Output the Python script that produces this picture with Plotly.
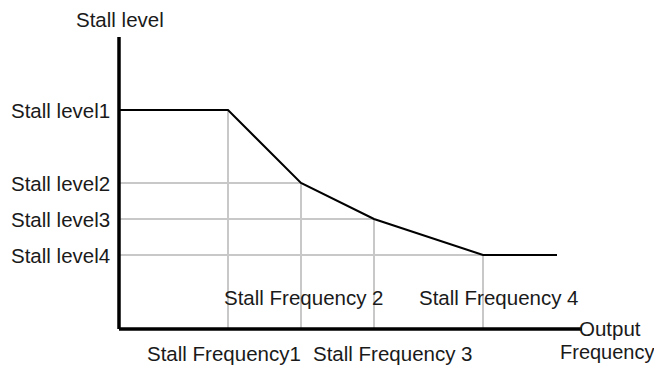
import plotly.graph_objects as go

# Data (units chosen so that the drawing matches the reference proportions)
freq_names = ["Stall Frequency1", "Stall Frequency 2", "Stall Frequency 3", "Stall Frequency 4"]
freq_values = [109, 182, 255, 364]
level_names = ["Stall level1", "Stall level2", "Stall level3", "Stall level4"]
level_values = [219, 146, 110, 74]
curve_end = 438
x_axis_end = 463
y_axis_end = 292

FONT = "Liberation Sans, Arial, sans-serif"
FS = 20.5
TXT = "#1a1a1a"
GRID = "#c8c8c8"

fig = go.Figure()

# Gray guide lines: horizontal from y-axis to each point, vertical from each point to x-axis
for i, (f, lv) in enumerate(zip(freq_values, level_values)):
    if i > 0:
        fig.add_trace(go.Scatter(x=[0, f], y=[lv, lv], mode="lines",
                                 line=dict(color=GRID, width=2), hoverinfo="skip"))
    fig.add_trace(go.Scatter(x=[f, f], y=[0, lv], mode="lines",
                             line=dict(color=GRID, width=2), hoverinfo="skip"))

# Main curve
cx = [0] + freq_values + [curve_end]
cy = [level_values[0]] + level_values + [level_values[-1]]
fig.add_trace(go.Scatter(x=cx, y=cy, mode="lines",
                         line=dict(color="black", width=2), hoverinfo="skip"))

# Axes
fig.add_trace(go.Scatter(x=[0, 0], y=[0, y_axis_end], mode="lines",
                         line=dict(color="black", width=3.5), hoverinfo="skip"))
fig.add_trace(go.Scatter(x=[0, x_axis_end], y=[0, 0], mode="lines",
                         line=dict(color="black", width=3.5), hoverinfo="skip"))

ann = []
def add(text, x, y, xanchor="center", yanchor="middle", size=FS):
    ann.append(dict(text=text, x=x, y=y, xref="x", yref="y", showarrow=False,
                    xanchor=xanchor, yanchor=yanchor,
                    font=dict(family=FONT, size=size, color=TXT)))

add("Stall level", 1, 310)
for name, lv in zip(level_names, level_values):
    add(name, -7, lv, xanchor="right")

# Frequency labels (staggered as in the reference)
label_pos = [(105, -24), (185, 32), (274, -24), (380, 32)]
for name, (lx, ly) in zip(freq_names, label_pos):
    add(name, lx, ly)

add("Output", 491, 1)
add("Frequency", 488, -23, size=20)

# Page body has an 8px margin: size the figure to the remaining area
fig.update_layout(
    width=654, height=357,
    margin=dict(l=0, r=0, t=0, b=0),
    paper_bgcolor="white", plot_bgcolor="white",
    showlegend=False,
    annotations=ann,
    xaxis=dict(range=[-111, 543], visible=False, fixedrange=True),
    yaxis=dict(range=[-36, 321], visible=False, fixedrange=True),
)

fig.write_html("out.html")
